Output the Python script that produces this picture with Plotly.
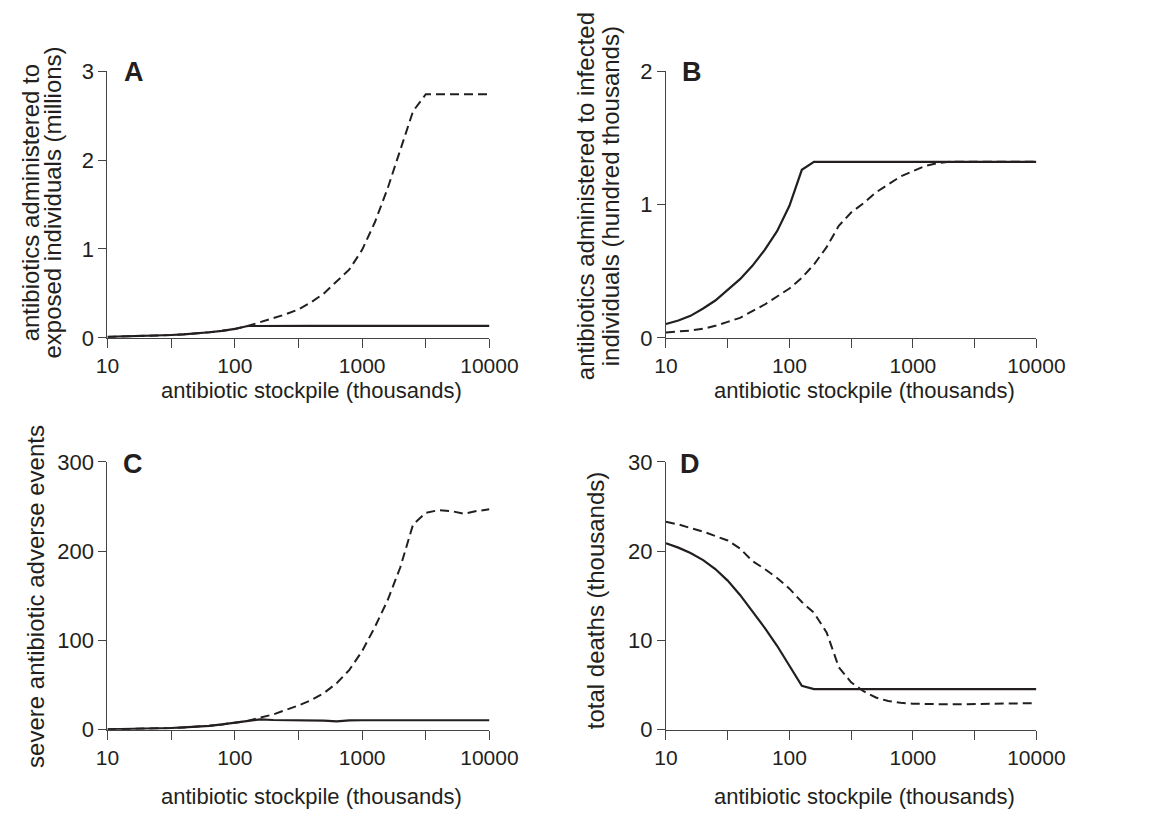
import plotly.graph_objects as go

# ---------------- data ----------------
stockpile = [10, 12.6, 15.8, 20, 25.1, 31.6, 39.8, 50.1, 63.1, 79.4, 100, 126, 158, 200, 251,
             316, 398, 501, 631, 794, 1000, 1259, 1585, 1995, 2512, 3162, 3981, 5012, 6310, 7943, 10000]

a_solid = [0.010, 0.013, 0.016, 0.020, 0.025, 0.032, 0.040, 0.050, 0.063, 0.079, 0.100, 0.133,
           0.135, 0.135, 0.135, 0.135, 0.135, 0.135, 0.135, 0.135, 0.135, 0.135, 0.135, 0.135,
           0.135, 0.135, 0.135, 0.135, 0.135, 0.135, 0.135]
a_dashed = [0.010, 0.013, 0.016, 0.020, 0.025, 0.032, 0.040, 0.050, 0.063, 0.079, 0.100, 0.133,
            0.175, 0.22, 0.265, 0.32, 0.40, 0.50, 0.63, 0.77, 0.99, 1.30, 1.68, 2.12,
            2.55, 2.74, 2.74, 2.74, 2.74, 2.74, 2.74]

b_solid = [0.104, 0.13, 0.165, 0.22, 0.28, 0.36, 0.44, 0.54, 0.66, 0.80, 0.99, 1.26,
           1.32, 1.32, 1.32, 1.32, 1.32, 1.32, 1.32, 1.32, 1.32, 1.32, 1.32, 1.32,
           1.32, 1.32, 1.32, 1.32, 1.32, 1.32, 1.32]
b_dashed = [0.04, 0.045, 0.055, 0.068, 0.09, 0.12, 0.15, 0.20, 0.25, 0.31, 0.37, 0.45,
            0.55, 0.68, 0.84, 0.94, 1.01, 1.09, 1.15, 1.21, 1.25, 1.29, 1.31, 1.32,
            1.32, 1.32, 1.32, 1.32, 1.32, 1.32, 1.32]

c_solid = [0.3, 0.5, 0.7, 1.0, 1.4, 1.8, 2.5, 3.3, 4.3, 5.8, 7.5, 9.8,
           11.5, 10.8, 10.7, 10.7, 10.6, 10.2, 9.2, 10.3, 10.5, 10.5, 10.5, 10.5,
           10.5, 10.5, 10.5, 10.5, 10.5, 10.5, 10.5]
c_dashed = [0.3, 0.5, 0.7, 1.0, 1.4, 1.8, 2.5, 3.3, 4.3, 5.8, 7.5, 9.8,
            13.5, 17, 22, 27, 33, 41, 52, 67, 88, 115, 145, 182,
            230, 243, 246, 245, 242, 245, 247]

d_solid = [20.9, 20.4, 19.8, 19.0, 18.0, 16.7, 15.1, 13.3, 11.4, 9.4, 7.2, 4.9,
           4.55, 4.55, 4.55, 4.55, 4.55, 4.55, 4.55, 4.55, 4.55, 4.55, 4.55, 4.55,
           4.55, 4.55, 4.55, 4.55, 4.55, 4.55, 4.55]
d_dashed = [23.3, 23.0, 22.6, 22.2, 21.7, 21.2, 20.3, 18.9, 18.0, 17.0, 15.8, 14.3,
            13.1, 10.9, 7.0, 5.3, 4.3, 3.6, 3.2, 3.0, 2.9, 2.85, 2.82, 2.83,
            2.85, 2.88, 2.9, 2.92, 2.93, 2.95, 2.97]

x_tickvals = [10, 31.62, 100, 316.2, 1000, 3162, 10000]
x_ticktext = ["10", "", "100", "", "1000", "", "10000"]

panels = [
    ("A", a_solid, a_dashed, [0, 1, 2, 3], 3),
    ("B", b_solid, b_dashed, [0, 1, 2], 2),
    ("C", c_solid, c_dashed, [0, 100, 200, 300], 300),
    ("D", d_solid, d_dashed, [0, 10, 20, 30], 30),
]

# ---------------- layout geometry (pixels) ----------------
W, H = 1157, 827
boxes = [  # left, right, top, bottom
    (99, 495, 61, 336),
    (678, 1062, 61, 336),
    (99, 495, 464, 740),
    (678, 1062, 464, 740),
]

INK = "#231f20"
fig = go.Figure()
layout = dict(
    width=W, height=H,
    margin=dict(l=0, r=0, t=0, b=0),
    paper_bgcolor="white", plot_bgcolor="white",
    showlegend=False,
    font=dict(family="Liberation Sans, Arial, Helvetica, sans-serif", color=INK, size=22),
)

for i, ((letter, solid, dashed, yticks, ymax), (l, r, t, b)) in enumerate(zip(panels, boxes)):
    n = "" if i == 0 else str(i + 1)
    xa, ya = "x" + n, "y" + n
    fig.add_trace(go.Scatter(x=stockpile, y=dashed, mode="lines", xaxis=xa, yaxis=ya,
                             line=dict(color=INK, width=2, dash="9px,5px")))
    fig.add_trace(go.Scatter(x=stockpile, y=solid, mode="lines", xaxis=xa, yaxis=ya,
                             line=dict(color=INK, width=2.2)))
    layout["xaxis" + n] = dict(
        domain=[l / W, r / W], anchor=ya, type="log", range=[1, 4],
        tickvals=x_tickvals, ticktext=x_ticktext, ticks="outside", ticklen=9,
        tickwidth=1.2, tickcolor="#444", showline=True, linecolor="#444", linewidth=1.2,
        showgrid=False, zeroline=False, tickfont=dict(size=21, color=INK),
    )
    layout["yaxis" + n] = dict(
        domain=[1 - b / H, 1 - t / H], anchor=xa, range=[0, ymax],
        tickvals=yticks, ticks="outside", ticklen=8,
        tickwidth=1.2, tickcolor="#444", showline=True, linecolor="#444", linewidth=1.2,
        showgrid=False, zeroline=False, tickfont=dict(size=22, color=INK),
    )

annotations = []
# panel letters
for letter, (cx, cy) in zip("ABCD", [(127, 62), (705, 62), (125, 466), (703, 466)]):
    annotations.append(dict(text="<b>%s</b>" % letter, x=cx / W, y=1 - cy / H, xref="paper", yref="paper",
                            xanchor="center", yanchor="middle", showarrow=False,
                            font=dict(size=27, color=INK)))
# x titles
for cx, cy in [(311, 390), (884, 390), (311, 809), (884, 809)]:
    annotations.append(dict(text="antibiotic stockpile (thousands)", x=cx / W, y=1 - cy / H,
                            xref="paper", yref="paper", xanchor="center", yanchor="middle",
                            showarrow=False, font=dict(size=22, color=INK)))
# y titles
ytitles = [
    ("antibiotics administered to", 19, 197),
    ("exposed individuals (millions)", 42, 197),
    ("antibiotics administered to infected", 594, 190),
    ("individuals (hundred thousands)", 620, 190),
    ("severe antibiotic adverse events", 25, 603),
    ("total deaths (thousands)", 605, 607),
]
for txt, cx, cy in ytitles:
    annotations.append(dict(text=txt, x=cx / W, y=1 - cy / H, xref="paper", yref="paper",
                            xanchor="center", yanchor="middle", textangle=-90,
                            showarrow=False, font=dict(size=24, color=INK)))
layout["annotations"] = annotations
fig.update_layout(**layout)

fig.write_html("out.html")
